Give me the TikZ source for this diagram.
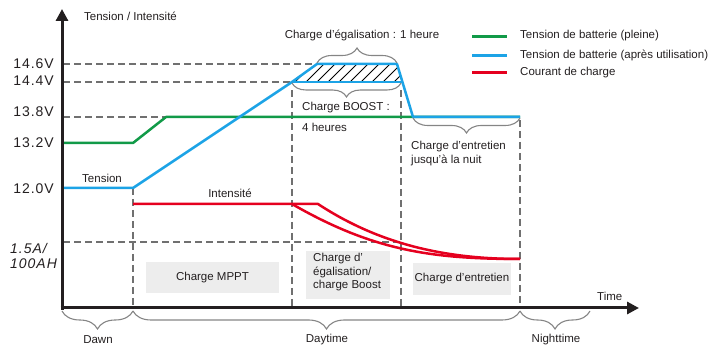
\documentclass[tikz,border=0pt]{standalone}
\usepackage{fontspec}
\setmainfont{Liberation Sans}
\newfontfamily\labfont[LetterSpace=7]{Liberation Sans}
\usetikzlibrary{decorations.pathreplacing,arrows.meta}
\definecolor{cgreen}{HTML}{119A48}
\definecolor{cblue}{HTML}{1CA3E6}
\definecolor{cred}{HTML}{E5001F}
\definecolor{caxis}{HTML}{231F20}
\definecolor{cdash}{HTML}{707070}
\definecolor{cbox}{HTML}{EDEDED}
\definecolor{cbrace}{HTML}{858585}
\definecolor{ctext}{HTML}{231F20}
\begin{document}
\begin{tikzpicture}[x=1pt,y=-1pt,
  font=\fontsize{11.5}{13.5}\selectfont, text=ctext,
  axisline/.style={draw=caxis,line width=3pt,-{Triangle[length=12pt,width=12pt]}},
  guide/.style={draw=cdash,line width=1.3pt,dash pattern=on 7pt off 4pt},
  curve/.style={line width=2.5pt,line join=round},
  bracestyle/.style={draw=cbrace,line width=1.1pt,decorate,decoration={brace,amplitude=#1}},
  bracestyle/.default=14pt,
  ylab/.style={anchor=east,inner sep=0pt,font=\labfont\fontsize{14}{16}\selectfont},
  txt/.style={inner sep=0pt},
  graybox/.style={fill=cbox,draw=none},
  legline/.style={line width=3pt}]
\useasboundingbox (0,0) rectangle (718,347);

% key coordinates
\coordinate (O) at (62,308);
\coordinate (ytop) at (62,9);
\coordinate (xend) at (639,308);

% guides
\draw[guide] (63,64) -- (317,64);
\draw[guide] (63,82) -- (292,82);
\draw[guide] (63,117) -- (166,117);
\draw[guide] (63,242) -- (401,242);
\draw[guide] (133,188) -- (133,308);
\draw[guide] (292,90) -- (292,308);
\draw[guide] (401,90) -- (401,308);
\draw[guide] (520,120) -- (520,308);

% gray boxes
\node[graybox,minimum width=133pt,minimum height=31pt,inner sep=0pt] (bmppt) at (212.5,277.5) {Charge MPPT};
\path[graybox] (306,251) rectangle (390,299);
\node[txt,anchor=north west,align=left,font=\fontsize{11.5}{13.5}\selectfont] (begal) at (313,253) {Charge d’\\égalisation/\\charge Boost};
\node[graybox,minimum width=98pt,minimum height=32pt,inner sep=0pt] (bentr) at (462,279) {Charge d’entretien};

% hatch region
\begin{scope}
\clip (292,82) -- (317,64) -- (397,64) -- (402,82) -- cycle;
\foreach \i in {0,...,11}
  \draw[black,line width=1pt] (282+\i*11,84) -- ++(22,-22);
\end{scope}

% green
\draw[curve,cgreen] (62,143) coordinate (g0) -- (133,143) coordinate (g1) -- (166,117) coordinate (g2) -- (520,117) coordinate (g3);
% blue
\draw[curve,cblue] (62,188) coordinate (b0) -- (133,188) coordinate (b1) -- (292,82) coordinate (b2) -- (317,64) coordinate (b3) -- (397,64) coordinate (b4) -- (413,117) coordinate (b5) -- (520,117) coordinate (b6);
\draw[curve,cblue] (b2) -- (402,82);
% red
\draw[curve,cred] (133,204) coordinate (r0) -- (292,204) coordinate (r1) -- (318,204) coordinate (r2)
   .. controls (376,242) and (440,259) .. (520,259) coordinate (r3);
\draw[curve,cred] (r1) .. controls (372,250) and (430,259) .. (r3);

% axes
\draw[axisline] (62,310) -- (ytop);
\draw[axisline] (60.5,308) -- (xend);

% braces
\draw[bracestyle=15pt] (317,63) -- (397,63);
\draw[bracestyle=14pt] (401,83) -- (292,83);
\draw[bracestyle=15pt] (520,118) -- (413,118);
\draw[bracestyle=18pt] (133,311) -- (62,311);
\draw[bracestyle=18pt] (520,311) -- (133,311);
\draw[bracestyle=18pt] (590,311) -- (520,311);

% y labels
\node[ylab] (l146) at (54,64) {14.6V};
\node[ylab] (l144) at (54,81) {14.4V};
\node[ylab] (l138) at (54,112) {13.8V};
\node[ylab] (l132) at (54,143) {13.2V};
\node[ylab] (l120) at (54,189) {12.0V};
\node[ylab,anchor=west] (l15a) at (10,248) {\itshape 1.5A/};
\node[ylab,anchor=west] (l100) at (10,264) {\itshape 100AH};

% texts
\node[txt,anchor=west] (tyaxis) at (84,16) {Tension / Intensité};
\node[txt] (tegal) at (362,35) {Charge d’égalisation : 1 heure};
\node[txt,anchor=west] (tboost) at (302,108) {Charge BOOST :};
\node[txt,anchor=west] (t4h) at (302,127) {4 heures};
\node[txt,anchor=north west,align=left] (tentr) at (411,141) {Charge d’entretien\\jusqu’à la nuit};
\node[txt,anchor=west] (ttens) at (82,178) {Tension};
\node[txt] (tint) at (230,193) {Intensité};
\node[txt,anchor=west] (ttime) at (597,296) {Time};
\node[txt] (tdawn) at (98,340) {Dawn};
\node[txt] (tday) at (327,340) {Daytime};
\node[txt] (tnight) at (556,340) {Nighttime};

% legend
\draw[legline,cgreen] (472,37) -- (507,37);
\draw[legline,cblue] (472,56) -- (507,56);
\draw[legline,cred] (472,73) -- (507,73);
\node[txt,anchor=west] (lg1) at (520,36) {Tension de batterie (pleine)};
\node[txt,anchor=west] (lg2) at (520,55) {Tension de batterie (après utilisation)};
\node[txt,anchor=west] (lg3) at (520,73) {Courant de charge};
\end{tikzpicture}
\end{document}
